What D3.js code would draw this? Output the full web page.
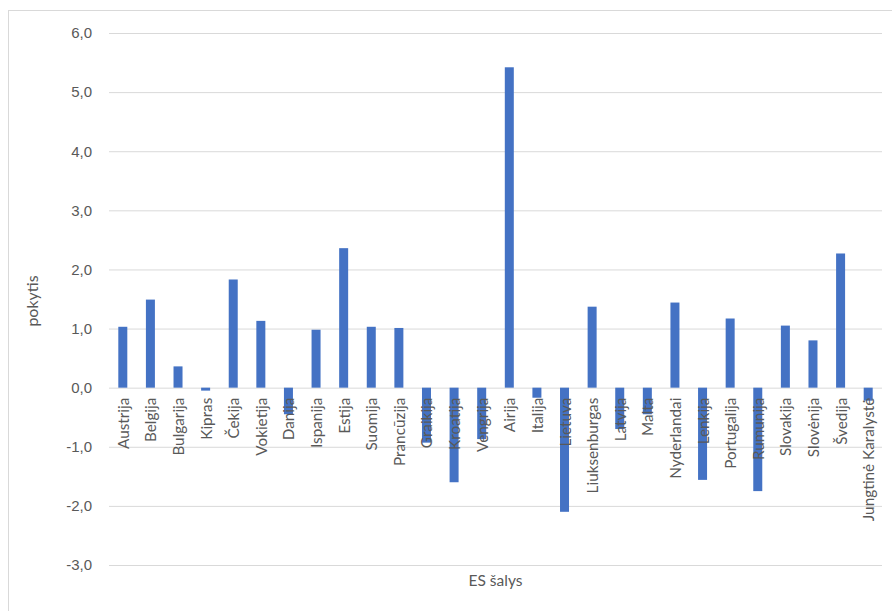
<!DOCTYPE html>
<html>
<head>
<meta charset="utf-8">
<script src="https://cdn.jsdelivr.net/npm/d3@7/dist/d3.min.js"></script>
<style>
  html, body { margin: 0; padding: 0; background: #fff; }
  svg { display: block; font-family: Lato, "Open Sans", sans-serif; }
</style>
</head>
<body>
<svg id="chart" width="892" height="611"></svg>
<script>
// Countries (EU member states + UK)
const countries = [
  "Austrija", "Belgija", "Bulgarija", "Kipras", "Čekija", "Vokietija", "Danija",
  "Ispanija", "Estija", "Suomija", "Prancūzija", "Graikija", "Kroatija", "Vengrija",
  "Airija", "Italija", "Lietuva", "Liuksenburgas", "Latvija", "Malta", "Nyderlandai",
  "Lenkija", "Portugalija", "Rumunija", "Slovakija", "Slovėnija", "Švedija",
  "Jungtinė Karalystė"
];

// Change (pokytis) per country
const changes = [
  1.03, 1.49, 0.36, -0.05, 1.83, 1.13, -0.45,
  0.98, 2.36, 1.03, 1.01, -0.93, -1.60, -0.87,
  5.42, -0.17, -2.10, 1.37, -0.70, -0.45, 1.44,
  -1.56, 1.17, -1.75, 1.05, 0.80, 2.27,
  -0.22
];

// Value axis ticks
const yTicks = [-3, -2, -1, 0, 1, 2, 3, 4, 5, 6];

const svg = d3.select("#chart");
const plotLeft = 109, plotRight = 882, plotTop = 33, plotBottom = 565;

// Outer chart frame
svg.append("rect")
  .attr("x", 8.5).attr("y", 10.5)
  .attr("width", 900).attr("height", 620)
  .attr("fill", "none").attr("stroke", "#d9d9d9").attr("stroke-width", 1);

const x = d3.scaleBand().domain(countries).range([plotLeft, plotRight]).paddingInner(0).paddingOuter(0);
const y = d3.scaleLinear().domain([-3, 6]).range([plotBottom, plotTop]);

// Gridlines + tick labels
const yAxis = d3.axisLeft(y).tickValues(yTicks).tickSize(-(plotRight - plotLeft))
  .tickPadding(17)
  .tickFormat(d => d3.format(".1f")(d).replace(".", ",").replace("−", "-"));

const gy = svg.append("g").attr("transform", `translate(${plotLeft},0)`).call(yAxis);
gy.select(".domain").remove();
gy.selectAll(".tick line").attr("stroke", "#d9d9d9").attr("stroke-width", 1);
gy.selectAll(".tick text").attr("fill", "#595959").style("font-size", "15px");

// Bars
const barW = 9;
svg.append("g").selectAll("rect")
  .data(countries.map((c, i) => ({ c, v: changes[i] })))
  .join("rect")
  .attr("x", d => x(d.c) + x.bandwidth() / 2 - barW / 2)
  .attr("y", d => y(Math.max(0, d.v)))
  .attr("width", barW)
  .attr("height", d => Math.abs(y(d.v) - y(0)))
  .attr("fill", "#4472c4");

// Category labels, rotated, drawn over the bars
const gx = svg.append("g");
countries.forEach(c => {
  const cx = x(c) + x.bandwidth() / 2 + 6;
  gx.append("text")
    .attr("transform", `translate(${cx},${y(0) + 10}) rotate(-90)`)
    .attr("text-anchor", "end")
    .attr("fill", "#595959")
    .style("font-size", "15.3px")
    .text(c);
});

// Axis titles
svg.append("text")
  .attr("transform", `translate(38,${(plotTop + plotBottom) / 2 + 2}) rotate(-90)`)
  .attr("text-anchor", "middle")
  .attr("fill", "#595959")
  .style("font-size", "16px")
  .text("pokytis");

svg.append("text")
  .attr("x", (plotLeft + plotRight) / 2)
  .attr("y", 586)
  .attr("text-anchor", "middle")
  .attr("fill", "#595959")
  .style("font-size", "15.5px")
  .text("ES šalys");
</script>
</body>
</html>
